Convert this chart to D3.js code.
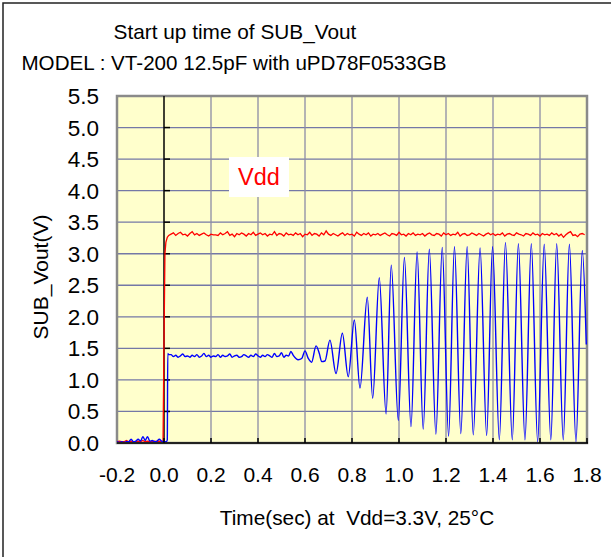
<!DOCTYPE html>
<html><head><meta charset="utf-8">
<script src="https://cdn.jsdelivr.net/npm/d3@7"></script>
<style>
html,body{margin:0;padding:0;background:#fff;}
svg{display:block;font-family:"Liberation Sans",Arial,sans-serif;}
</style></head>
<body>
<svg id="c" width="611" height="557"></svg>
<script>
// ---------------- data ----------------
const titleLines = ["Start up time of SUB_Vout", "MODEL : VT-200 12.5pF with uPD78F0533GB"];
const xTitle = "Time(sec) at  Vdd=3.3V, 25\u00B0C";
const yTitle = "SUB_Vout(V)";
const legendLabel = "Vdd";
const xTicks = [-0.2, 0.0, 0.2, 0.4, 0.6, 0.8, 1.0, 1.2, 1.4, 1.6, 1.8];
const yTicks = [0.0, 0.5, 1.0, 1.5, 2.0, 2.5, 3.0, 3.5, 4.0, 4.5, 5.0, 5.5];
const sampleStep = 0.01;

// Vdd (red): before power-on, sampled every 0.01 s from -0.20 s
const vddPreStart = -0.20;
const vddPre = [0.02,0.03,0.02,0.02,0.04,0.02,0.03,0.02,0.02,0.03,0.02,0.04,0.02,0.03,0.02,0.02,0.03,0.02,0.03,0.02];
// Vdd rise
const vddRiseT = [-0.004, 0.0, 0.004, 0.008, 0.014, 0.02];
const vddRiseV = [0.03, 1.6, 3.0, 3.18, 3.26, 3.29];
// Vdd steady, sampled every 0.01 s from 0.03 s
const vddRunStart = 0.03;
const vddRun = [
3.31,3.33,3.29,3.32,3.34,3.30,3.31,3.28,3.32,3.35,
3.30,3.32,3.29,3.31,3.33,3.30,3.28,3.31,3.30,3.30,
3.29,3.33,3.30,3.32,3.35,3.29,3.31,3.27,3.32,3.30,
3.33,3.31,3.28,3.32,3.30,3.34,3.29,3.31,3.33,3.30,
3.32,3.28,3.31,3.30,3.35,3.29,3.32,3.31,3.28,3.33,
3.30,3.31,3.29,3.33,3.30,3.32,3.27,3.31,3.30,3.34,
3.29,3.32,3.31,3.28,3.33,3.30,3.36,3.31,3.29,3.32,
3.30,3.28,3.31,3.33,3.29,3.32,3.30,3.31,3.28,3.34,
3.31,3.29,3.32,3.30,3.33,3.28,3.31,3.30,3.32,3.29,
3.31,3.33,3.30,3.28,3.32,3.31,3.29,3.34,3.30,3.31,
3.28,3.32,3.30,3.33,3.29,3.31,3.30,3.32,3.28,3.31,
3.33,3.30,3.29,3.32,3.31,3.28,3.33,3.30,3.32,3.29,
3.31,3.30,3.34,3.28,3.31,3.32,3.29,3.30,3.33,3.31,
3.29,3.32,3.30,3.28,3.31,3.33,3.30,3.32,3.29,3.31,
3.30,3.33,3.28,3.31,3.32,3.30,3.29,3.33,3.31,3.30,
3.28,3.32,3.31,3.29,3.33,3.30,3.31,3.28,3.32,3.30,
3.31,3.29,3.33,3.30,3.32,3.28,3.31,3.26,3.30,3.33,
3.35,3.29,3.30,3.27,3.31,3.32,3.30];

// SUB_Vout (blue): before power-on, every 0.01 s from -0.20 s
const subPreStart = -0.20;
const subPre = [0.02,0.01,0.02,0.01,0.02,0.02,0.06,0.02,0.03,0.06,0.03,0.10,0.04,0.10,0.03,0.04,0.02,0.03,0.06,0.03,0.02];
const subRiseT = [0.010, 0.014, 0.016, 0.020];
const subRiseV = [0.02, 0.05, 1.42, 1.40];
// flat section, every 0.01 s from 0.03 s
const subFlatStart = 0.03;
const subFlat = [
1.40,1.37,1.39,1.36,1.38,1.41,1.37,1.38,1.36,1.39,
1.37,1.40,1.36,1.38,1.42,1.37,1.39,1.36,1.38,1.37,
1.40,1.36,1.39,1.37,1.38,1.41,1.36,1.38,1.39,1.36,
1.37,1.40,1.38,1.36,1.39,1.37,1.41,1.38,1.36,1.39,
1.37,1.40,1.38,1.36,1.42,1.37,1.38,1.43,1.36,1.39,
1.38,1.45];
// oscillation start-up: turning points
const subOscT = [0.550,0.571,0.586,0.600,0.614,0.628,0.647,0.661,0.671,0.685,0.706,0.732,0.759,0.784,0.810,0.834,0.865,0.888,0.916,0.945,
0.967,0.997,1.023,1.051,1.077,1.103,1.129,1.157,1.184,1.211,1.236,1.263,1.290,1.316,1.345,1.373,1.398,1.427,1.453,1.482,
1.508,1.536,1.563,1.590,1.618,1.646,1.671,1.699,1.725,1.753,1.780,1.797];
const subOscV = [1.39,1.32,1.34,1.46,1.34,1.28,1.54,1.42,1.29,1.30,1.63,1.10,1.74,1.05,1.95,0.87,2.31,0.71,2.62,0.46,
2.82,0.36,2.94,0.26,3.03,0.22,3.07,0.14,3.10,0.11,3.11,0.15,3.11,0.13,3.09,0.12,3.11,0.05,3.18,0.05,
3.16,0.05,3.16,0.02,3.15,0.05,3.16,0.05,3.15,0.02,3.05,1.56];

// ---------------- build series ----------------
const uniform = (start, vals) => vals.map((v, i) => [start + i * sampleStep, v]);
const pairs = (ts, vs) => ts.map((t, i) => [t, vs[i]]);
const vddSeries = [].concat(uniform(vddPreStart, vddPre), pairs(vddRiseT, vddRiseV), uniform(vddRunStart, vddRun));
const subSeries = [].concat(uniform(subPreStart, subPre), pairs(subRiseT, subRiseV), uniform(subFlatStart, subFlat), pairs(subOscT, subOscV));

// ---------------- layout ----------------
const svg = d3.select("#c");
const L = 117, R = 587, T = 96, B = 443;
const x = d3.scaleLinear().domain([-0.2, 1.8]).range([L, R]);
const y = d3.scaleLinear().domain([0, 5.5]).range([B, T]);

// outer frame (left and top visible)
svg.append("path").attr("d", "M3,557 L3,3 L611,3").attr("fill", "none").attr("stroke", "#222").attr("stroke-width", 1.5);

// titles
svg.append("text").attr("x", 235).attr("y", 39).attr("text-anchor", "middle").attr("font-size", 20.8).attr("fill", "#000").text(titleLines[0]);
svg.append("text").attr("x", 234).attr("y", 70).attr("text-anchor", "middle").attr("font-size", 20.6).attr("fill", "#000").text(titleLines[1]);

// plot background
svg.append("rect").attr("x", L).attr("y", T).attr("width", R - L).attr("height", B - T).attr("fill", "#ffffcc");

// gridlines
const gridG = svg.append("g");
gridG.selectAll("line.h").data(yTicks.filter(v => v > 0 && v < 5.5)).join("line")
  .attr("x1", L).attr("x2", R).attr("y1", d => y(d)).attr("y2", d => y(d))
  .attr("stroke", "#7478a6").attr("stroke-width", 1.3);
gridG.selectAll("line.v").data(xTicks.filter(v => v > -0.2 && v < 1.8 && Math.abs(v) > 1e-9)).join("line")
  .attr("x1", d => x(d)).attr("x2", d => x(d)).attr("y1", T).attr("y2", B)
  .attr("stroke", "#8c8ca6").attr("stroke-width", 1.3);

// frame of plot
svg.append("rect").attr("x", L).attr("y", T).attr("width", R - L).attr("height", B - T)
  .attr("fill", "none").attr("stroke", "#8a8a8a").attr("stroke-width", 2.5);

// zero-time axis with ticks
svg.append("line").attr("x1", x(0)).attr("x2", x(0)).attr("y1", T).attr("y2", B).attr("stroke", "#000").attr("stroke-width", 1.5);
svg.append("g").selectAll("line").data(yTicks.filter(v => v > 0 && v < 5.5)).join("line")
  .attr("x1", x(0)).attr("x2", x(0) + 6).attr("y1", d => y(d)).attr("y2", d => y(d))
  .attr("stroke", "#000").attr("stroke-width", 1.5);

// clip for traces
svg.append("clipPath").attr("id", "pc").append("rect").attr("x", L).attr("y", T - 2).attr("width", R - L).attr("height", B - T + 2);

const lineLin = d3.line().x(d => x(d[0])).y(d => y(d[1]));
const lineSmooth = d3.line().x(d => x(d[0])).y(d => y(d[1])).curve(d3.curveMonotoneX);

const traces = svg.append("g").attr("clip-path", "url(#pc)");
traces.append("path").datum(vddSeries).attr("d", lineLin).attr("fill", "none").attr("stroke", "#ff0000").attr("stroke-width", 1.3);
traces.append("path").datum(subSeries).attr("d", lineSmooth).attr("fill", "none").attr("stroke", "#0000ff").attr("stroke-width", 1.4).attr("stroke-linejoin", "round");

// bottom axis line and ticks
svg.append("line").attr("x1", L).attr("x2", R + 1).attr("y1", B).attr("y2", B).attr("stroke", "#222").attr("stroke-width", 2);
svg.append("g").selectAll("line").data(xTicks.filter(v => v > -0.2)).join("line")
  .attr("x1", d => x(d)).attr("x2", d => x(d)).attr("y1", B).attr("y2", B - 5)
  .attr("stroke", "#000").attr("stroke-width", 1.5);

// tick labels
svg.append("g").selectAll("text").data(yTicks).join("text")
  .attr("x", 99).attr("y", d => y(d) + 8).attr("text-anchor", "end")
  .attr("font-size", 22.5).attr("fill", "#000").text(d => d.toFixed(1));
svg.append("g").selectAll("text").data(xTicks).join("text")
  .attr("x", d => x(d)).attr("y", 482).attr("text-anchor", "middle")
  .attr("font-size", 21).attr("fill", "#000").text(d => d.toFixed(1));

// axis titles
svg.append("text").attr("x", 357).attr("y", 525).attr("text-anchor", "middle").attr("font-size", 20.8)
  .attr("fill", "#000").style("white-space", "pre").text(xTitle);
svg.append("text").attr("transform", "translate(48,277) rotate(-90)").attr("text-anchor", "middle")
  .attr("font-size", 21).attr("fill", "#000").text(yTitle);

// legend label
svg.append("rect").attr("x", 229).attr("y", 157).attr("width", 60).attr("height", 40).attr("fill", "#fff");
svg.append("text").attr("x", 259).attr("y", 185).attr("text-anchor", "middle").attr("font-size", 23.5)
  .attr("fill", "#ff0000").text(legendLabel);
</script>
</body></html>
